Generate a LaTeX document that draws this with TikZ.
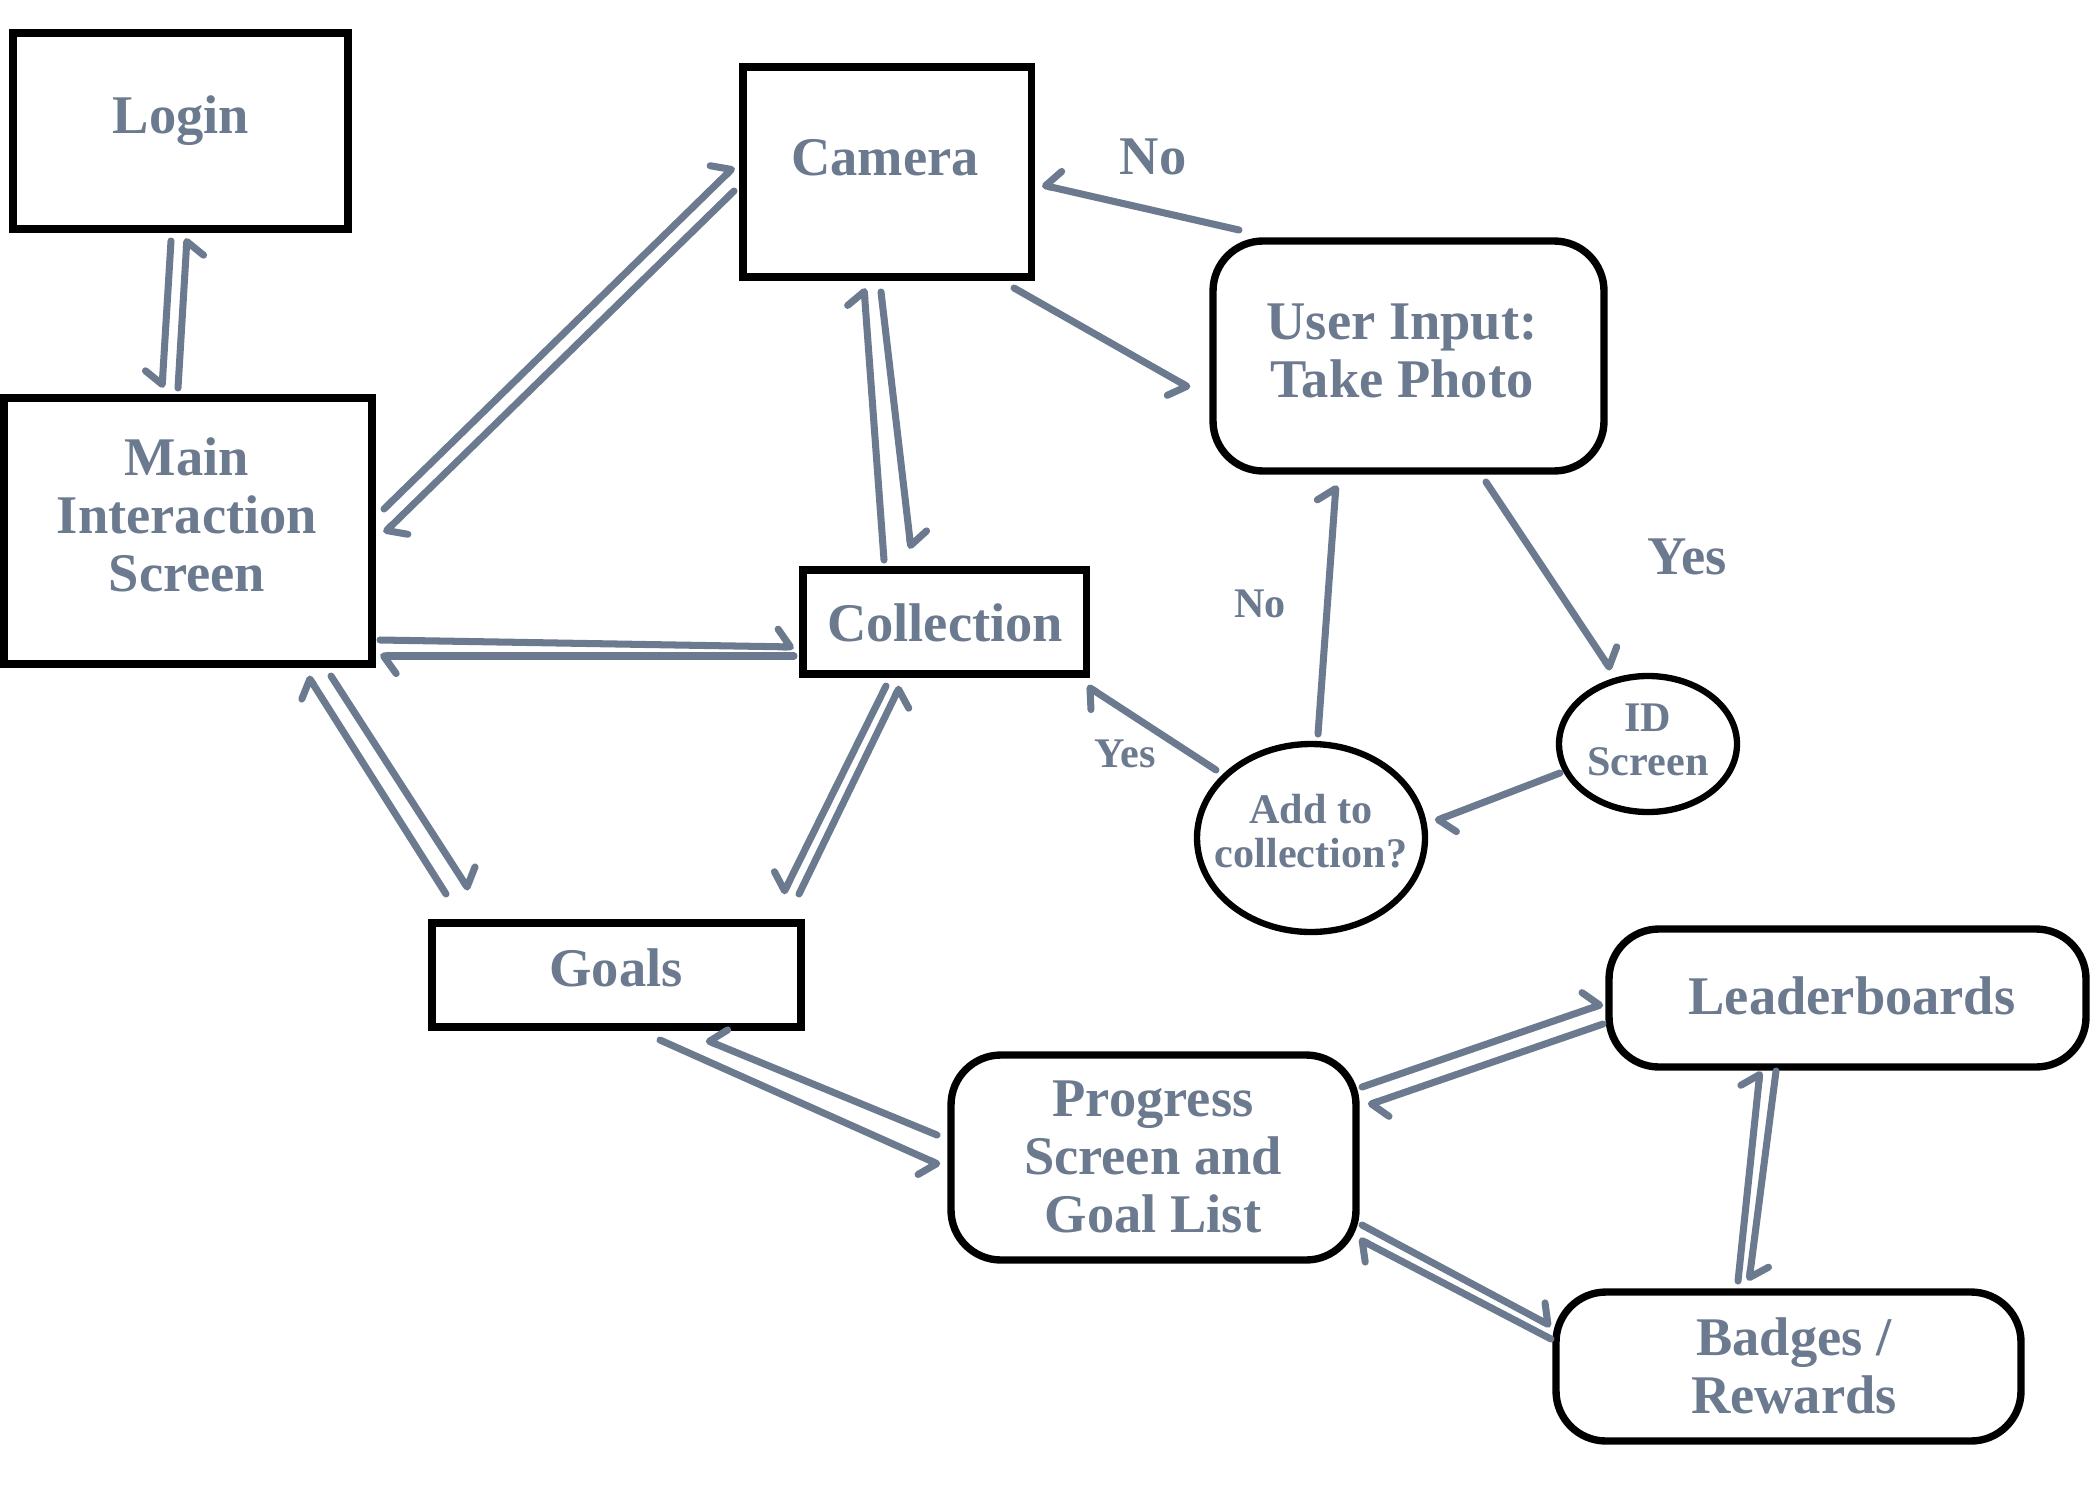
\documentclass[tikz,border=0pt]{standalone}
\usepackage{fontspec}
\setmainfont{Liberation Serif}
\usetikzlibrary{arrows.meta,shapes.geometric}
\definecolor{slate}{HTML}{6B7A8F}
\begin{document}
\begin{tikzpicture}[x=0.1mm,y=-0.1mm,
  sq/.style={draw=black,line width=2pt,rectangle,inner sep=0pt},
  rbox/.style={draw=black,line width=2.1pt,rectangle,rounded corners=5mm,inner sep=0pt},
  ell/.style={draw=black,line width=1.8pt,ellipse,inner sep=0pt},
  lbl/.style={text=slate,font=\bfseries\fontsize{15.5}{16.5}\selectfont,align=center,inner sep=0pt},
  slbl/.style={text=slate,font=\bfseries\fontsize{12}{12.5}\selectfont,align=center,inner sep=0pt},
  con/.style={draw=slate,line width=2pt,line cap=round},
  hl/.style={con,-{Straight Barb[harpoon,length=3.6pt,width=10pt,line cap=round,line join=round]}},
  hr/.style={con,-{Straight Barb[harpoon,swap,length=3.6pt,width=10pt,line cap=round,line join=round]}}]
\fill[white] (0,0) rectangle (2100,1500);
\useasboundingbox (0,0) rectangle (2100,1500);

% boxes
\node[sq,minimum width=33.5mm,minimum height=19.6mm] (login) at (180.5,131) {};
\node[sq,minimum width=28.8mm,minimum height=21.0mm] (camera) at (887,172) {};
\node[rbox,minimum width=39.1mm,minimum height=23.0mm] (userin) at (1408.5,356) {};
\node[sq,minimum width=36.8mm,minimum height=26.6mm] (main) at (188,531) {};
\node[sq,minimum width=28.3mm,minimum height=10.4mm] (coll) at (944.5,622) {};
\node[sq,minimum width=36.9mm,minimum height=10.4mm] (goals) at (616.5,975) {};
\node[ell,minimum width=22.8mm,minimum height=18.8mm] (add) at (1311,838) {};
\node[ell,minimum width=17.8mm,minimum height=13.6mm] (idscr) at (1648,744) {};
\node[rbox,minimum width=47.7mm,minimum height=13.8mm] (leader) at (1847.5,998) {};
\node[rbox,minimum width=40.5mm,minimum height=20.5mm] (prog) at (1153.5,1157.5) {};
\node[rbox,minimum width=46.5mm,minimum height=14.9mm] (badges) at (1788.5,1366.5) {};

% texts
\node[lbl] (loginT) at (181,121) {Login};
\node[lbl] (cameraT) at (885,158) {Camera};
\node[lbl] (userinT) at (1402,351) {User Input:\\Take Photo};
\node[lbl] (mainT) at (187,515) {Main\\Interaction\\Screen};
\node[lbl] (collT) at (945,623) {Collection};
\node[lbl] (goalsT) at (616,968) {Goals};
\node[slbl] (addT) at (1311,831) {Add to\\collection?};
\node[slbl] (idT) at (1648,740) {ID\\Screen};
\node[lbl] (leaderT) at (1852,996) {Leaderboards};
\node[lbl] (progT) at (1153,1157) {Progress\\Screen and\\Goal List};
\node[lbl] (badgesT) at (1794,1366) {Badges /\\Rewards};
\node[lbl] (noA) at (1153,157) {No};
\node[lbl] (yesA) at (1687,557) {Yes};
\node[slbl] (noB) at (1260,604) {No};
\node[slbl] (yesB) at (1125,754) {Yes};

% connectors
\draw[hr] (171,241) -- (162,388);
\draw[hr] (178,388) -- (187,238);
\draw[hl] (384,509) -- (734,167);
\draw[hl] (734,191) -- (384,533);
\draw[hl] (884,560) -- (864,288);
\draw[hl] (881,292) -- (911,549);
\draw[hr] (1014,288) -- (1190,388);
\draw[hr] (1239,230) -- (1042,185);
\draw[hl] (380,640) -- (794,647);
\draw[hl] (794,656) -- (380,656);
\draw[hl] (446,894) -- (308,676);
\draw[hl] (331,676) -- (469,890);
\draw[hr] (886,686) -- (783,894);
\draw[hr] (799,894) -- (900,686);
\draw[hr] (937,1135) -- (706,1040);
\draw[hr] (660,1040) -- (940,1165);
\draw[hl] (1362,1087) -- (1603,1004);
\draw[hl] (1603,1024) -- (1368,1105);
\draw[hl] (1738,1281) -- (1760,1071);
\draw[hl] (1776,1071) -- (1749,1281);
\draw[hl] (1362,1225) -- (1551,1326);
\draw[hl] (1551,1339) -- (1359,1239);
\draw[hl] (1486,482) -- (1611,670);
\draw[hl] (1560,773) -- (1435,821);
\draw[hl] (1318,734) -- (1336,485);
\draw[hl] (1216,770) -- (1087,686);
\end{tikzpicture}
\end{document}
